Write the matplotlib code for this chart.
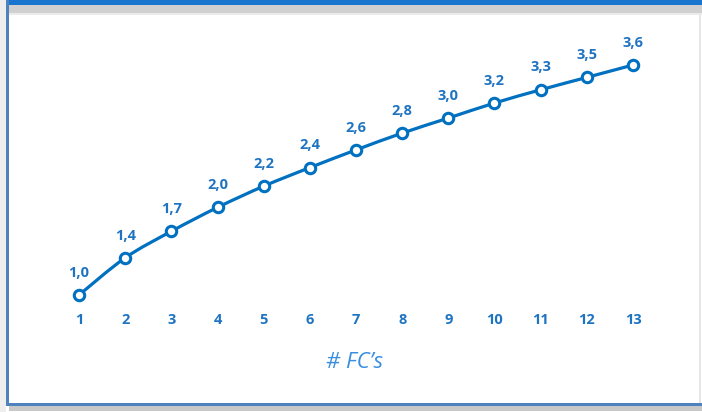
import matplotlib.pyplot as plt
from matplotlib.patches import Rectangle, PathPatch
from matplotlib.path import Path

# data (plotted positions; labels as printed)
fcs = list(range(1, 14))
values = [1.0, 1.42, 1.72, 1.99, 2.23, 2.44, 2.64, 2.83, 3.0, 3.17, 3.32, 3.46, 3.6]
value_labels = ["1,0", "1,4", "1,7", "2,0", "2,2", "2,4", "2,6", "2,8", "3,0", "3,2", "3,3", "3,5", "3,6"]

W, H = 702, 412
blue = "#0070C0"
label_blue = "#1F74C2"

plt.rcParams['font.family'] = ['Open Sans', 'DejaVu Sans']

fig = plt.figure(figsize=(W / 100, H / 100), dpi=100)
fig.patch.set_facecolor("white")

# frame (pixel coords -> figure fraction)
def frect(x0, y0, x1, y1, color, z=0):
    fig.patches.append(Rectangle((x0 / W, 1 - y1 / H), (x1 - x0) / W, (y1 - y0) / H,
                                 transform=fig.transFigure, facecolor=color,
                                 edgecolor="none", zorder=z))

frect(0, 0, 6, H, "#EEEEEE")
frect(6, 5, W, 13, "#D0D0D0")
frect(6, 13, W, 15, "#EBEBEB")
frect(6, 0, W, 5, "#1A75CF", z=2)
frect(6, 0, 9, 406, "#4F81BD", z=2)
frect(6, 403, W, 406, "#4F81BD", z=2)
frect(9, 406, W, 411, "#C8C8C8")
frect(699, 15, 701, 403, "#E6E6E6")

# axes placed so data positions land on the reference pixels
ax_left, ax_right, ax_top, ax_bottom = 40, 672, 30, 300
ax = fig.add_axes([ax_left / W, 1 - ax_bottom / H, (ax_right - ax_left) / W, (ax_bottom - ax_top) / H])
ax.set_facecolor("none")
px_per_x = (633 - 79) / 12
px_per_v = (295 - 65) / 2.6
ax.set_xlim(1 - (79 - ax_left) / px_per_x, 1 + (ax_right - 79) / px_per_x)
ax.set_ylim(1 - (ax_bottom - 295) / px_per_v, 1 + (295 - ax_top) / px_per_v)

# smoothed line like Excel (Catmull-Rom as cubic Bezier segments)
verts = [(fcs[0], values[0])]
codes = [Path.MOVETO]
n = len(fcs)
for i in range(n - 1):
    p0 = (fcs[max(i - 1, 0)], values[max(i - 1, 0)])
    p1 = (fcs[i], values[i])
    p2 = (fcs[i + 1], values[i + 1])
    p3 = (fcs[min(i + 2, n - 1)], values[min(i + 2, n - 1)])
    c1 = (p1[0] + (p2[0] - p0[0]) / 6, p1[1] + (p2[1] - p0[1]) / 6)
    c2 = (p2[0] - (p3[0] - p1[0]) / 6, p2[1] - (p3[1] - p1[1]) / 6)
    verts += [c1, c2, p2]
    codes += [Path.CURVE4] * 3
ax.add_patch(PathPatch(Path(verts, codes), facecolor="none", edgecolor=blue,
                       lw=2.3, capstyle="round", joinstyle="round", zorder=3))

ax.plot(fcs, values, ls="none", marker="o", ms=7.5, mfc="white",
        mec=blue, mew=2.2, clip_on=False, zorder=4)

for x, v, t in zip(fcs, values, value_labels):
    ax.annotate(t, (x, v), xytext=(0, 11), textcoords="offset points",
                ha="center", va="bottom", fontsize=10.5, fontweight="bold",
                color=label_blue)

for s in ax.spines.values():
    s.set_visible(False)
ax.set_yticks([])
ax.set_xticks(fcs)
ax.set_xticklabels([str(f) for f in fcs], fontsize=10.5, fontweight="bold", color=label_blue)
ax.tick_params(axis="x", length=0, pad=9)

fig.text(355 / W, 1 - 362 / H, "# FC\u2019s", ha="center", va="center",
         fontsize=16, style="italic", color="#3A8EE0")

fig.savefig("out.png", dpi=100)
